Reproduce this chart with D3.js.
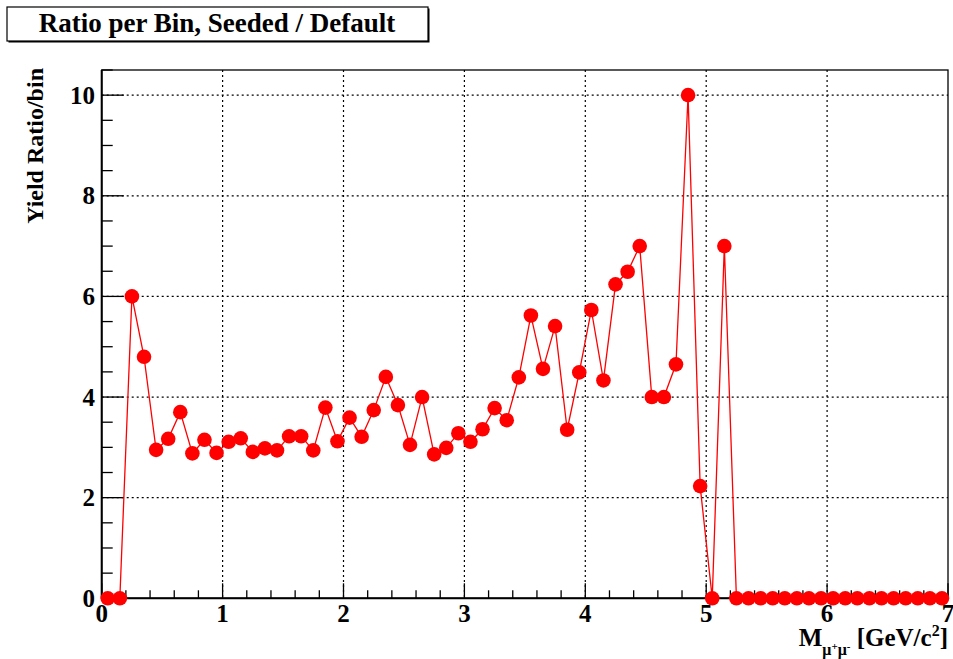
<!DOCTYPE html>
<html>
<head>
<meta charset="utf-8">
<script src="https://cdn.jsdelivr.net/npm/d3@7"></script>
<style>
  html, body { margin: 0; padding: 0; background: #fff; }
  svg { display: block; }
  text { font-family: "Liberation Serif", "Times New Roman", serif; font-weight: bold; fill: #000; }
</style>
</head>
<body>
<svg id="chart" width="953" height="659"></svg>
<script>
// ---- data ----
const binCenters = d3.range(70).map(i => +(0.05 + 0.1 * i).toFixed(2));
const ratioValues = [
  0, 0, 6.0, 4.8, 2.95, 3.17, 3.70, 2.88, 3.15, 2.89,
  3.11, 3.18, 2.91, 2.98, 2.94, 3.22, 3.22, 2.94, 3.79, 3.12,
  3.59, 3.21, 3.74, 4.40, 3.84, 3.05, 4.00, 2.86, 2.99, 3.28,
  3.11, 3.36, 3.78, 3.54, 4.39, 5.62, 4.56, 5.41, 3.35, 4.49,
  5.73, 4.33, 6.24, 6.49, 7.0, 4.0, 4.0, 4.65, 10.0, 2.23,
  0, 7.0, 0, 0, 0, 0, 0, 0, 0, 0,
  0, 0, 0, 0, 0, 0, 0, 0, 0, 0
];
const xMajorTicks = [0, 1, 2, 3, 4, 5, 6, 7];
const yMajorTicks = [0, 2, 4, 6, 8, 10];
const titleText = "Ratio per Bin, Seeded / Default";
const yTitle = "Yield Ratio/bin";

// ---- layout ----
const frame = { left: 101.7, right: 948, top: 70, bottom: 598.3 };
const svg = d3.select("#chart");

const x = d3.scaleLinear().domain([0, 7]).range([frame.left, frame.right]);
const y = d3.scaleLinear().domain([0, 10.5]).range([frame.bottom, frame.top]);

// grid
const grid = svg.append("g");
grid.selectAll("line.gx").data(xMajorTicks.filter(v => v > 0 && v < 7)).join("line")
  .attr("x1", d => x(d)).attr("x2", d => x(d))
  .attr("y1", frame.top).attr("y2", frame.bottom)
  .attr("stroke", "#000").attr("stroke-width", 1.2).attr("stroke-dasharray", "2,3");
grid.selectAll("line.gy").data(yMajorTicks.filter(v => v > 0)).join("line")
  .attr("x1", frame.left).attr("x2", frame.right)
  .attr("y1", d => y(d)).attr("y2", d => y(d))
  .attr("stroke", "#000").attr("stroke-width", 1.2).attr("stroke-dasharray", "2,3");

// frame
svg.append("rect")
  .attr("x", frame.left).attr("y", frame.top)
  .attr("width", frame.right - frame.left).attr("height", frame.bottom - frame.top)
  .attr("fill", "none").attr("stroke", "#000").attr("stroke-width", 1.3);

// x axis ticks (inward)
const xMinor = d3.range(0, 7.0001, 0.2).map(v => +v.toFixed(2));
svg.append("g").selectAll("line").data(xMinor).join("line")
  .attr("x1", d => x(d)).attr("x2", d => x(d))
  .attr("y1", frame.bottom)
  .attr("y2", d => frame.bottom - (Math.abs(d - Math.round(d)) < 1e-6 ? 15 : 8))
  .attr("stroke", "#000").attr("stroke-width", 1.3);
svg.append("line")
  .attr("x1", frame.left).attr("x2", frame.right)
  .attr("y1", frame.bottom).attr("y2", frame.bottom)
  .attr("stroke", "#000").attr("stroke-width", 2);

// y axis ticks (inward)
const yMinor = d3.range(0, 10.5001, 0.5).map(v => +v.toFixed(2));
svg.append("g").selectAll("line").data(yMinor).join("line")
  .attr("y1", d => y(d)).attr("y2", d => y(d))
  .attr("x1", frame.left)
  .attr("x2", d => frame.left + (Math.abs(d / 2 - Math.round(d / 2)) < 1e-6 ? 22 : 11))
  .attr("stroke", "#000").attr("stroke-width", 1.3);
svg.append("line")
  .attr("x1", frame.left).attr("x2", frame.left)
  .attr("y1", frame.top).attr("y2", frame.bottom)
  .attr("stroke", "#000").attr("stroke-width", 2);

// tick labels
svg.append("g").selectAll("text").data(xMajorTicks).join("text")
  .attr("x", d => x(d)).attr("y", 622)
  .attr("text-anchor", "middle").attr("font-size", 25)
  .text(d => d);
svg.append("g").selectAll("text").data(yMajorTicks).join("text")
  .attr("x", 95).attr("y", d => y(d) + 8.5)
  .attr("text-anchor", "end").attr("font-size", 25)
  .text(d => d);

// axis titles
svg.append("text")
  .attr("transform", `translate(43,68) rotate(-90)`)
  .attr("text-anchor", "end").attr("font-size", 24)
  .text(yTitle);

const xt = svg.append("text")
  .attr("x", 948).attr("y", 646)
  .attr("text-anchor", "end").attr("font-size", 25);
xt.append("tspan").text("M");
xt.append("tspan").attr("font-size", 16).attr("dy", 9).text("\u03bc");
xt.append("tspan").attr("font-size", 11).attr("dy", -5).text("+");
xt.append("tspan").attr("font-size", 16).attr("dy", 5).text("\u03bc");
xt.append("tspan").attr("font-size", 11).attr("dy", -5).text("-");
xt.append("tspan").attr("dy", -4).text(" [GeV/c");
xt.append("tspan").attr("font-size", 16).attr("dy", -10).text("2");
xt.append("tspan").attr("dy", 10).text("]");

// data line + markers
const pts = binCenters.map((c, i) => [c, ratioValues[i]]);
svg.append("path")
  .datum(pts)
  .attr("fill", "none").attr("stroke", "#ff0000").attr("stroke-width", 1.3)
  .attr("d", d3.line().x(d => x(d[0])).y(d => y(d[1])));
svg.append("g").selectAll("circle").data(pts).join("circle")
  .attr("cx", d => x(d[0])).attr("cy", d => y(d[1]))
  .attr("r", 7.3).attr("fill", "#ff0000");

// title box with shadow
svg.append("rect").attr("x", 8.5).attr("y", 8.5).attr("width", 421).attr("height", 34).attr("fill", "#000");
svg.append("rect").attr("x", 7).attr("y", 7).attr("width", 421).attr("height", 34)
  .attr("fill", "#fff").attr("stroke", "#000").attr("stroke-width", 1.2);
svg.append("text")
  .attr("x", 217).attr("y", 32)
  .attr("text-anchor", "middle").attr("font-size", 27)
  .text(titleText);
</script>
</body>
</html>
